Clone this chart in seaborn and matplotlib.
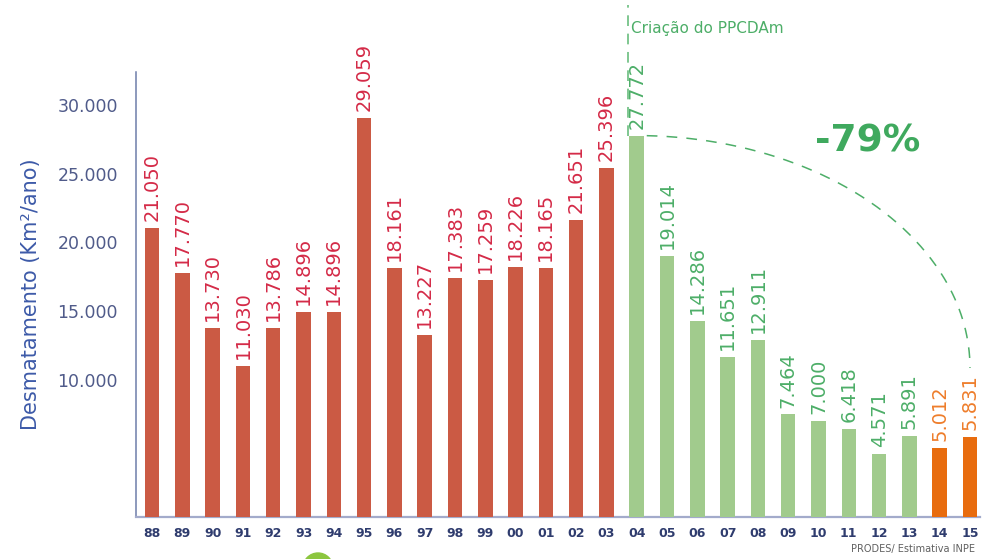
import numpy as np
import pandas as pd
import matplotlib
matplotlib.use("Agg")
import matplotlib.pyplot as plt
from matplotlib.patches import Ellipse
import seaborn as sns

# ---- data ----
years = ['88', '89', '90', '91', '92', '93', '94', '95', '96', '97', '98', '99',
         '00', '01', '02', '03', '04', '05', '06', '07', '08', '09', '10', '11',
         '12', '13', '14', '15']
values = [21050, 17770, 13730, 11030, 13786, 14896, 14896, 29059, 18161, 13227,
          17383, 17259, 18226, 18165, 21651, 25396, 27772, 19014, 14286, 11651,
          12911, 7464, 7000, 6418, 4571, 5891, 5012, 5831]
periods = ['antes'] * 16 + ['ppcdam'] * 10 + ['recente'] * 2
ytick_vals = [10000, 15000, 20000, 25000, 30000]

bar_colors = {'antes': '#CB5A44', 'ppcdam': '#A1CB8D', 'recente': '#E86C0E'}
label_colors = {'antes': '#D42A47', 'ppcdam': '#4DAE68', 'recente': '#EE7D2B'}

df = pd.DataFrame({'year': years, 'value': values, 'period': periods})

sns.set_style('white')
plt.rcParams['font.family'] = ['DejaVu Sans']

fig = plt.figure(figsize=(9.94, 5.59), dpi=100)
ax = fig.add_axes([0.1368, 0.0751, 0.8491, 0.7961])

sns.barplot(data=df, x='year', y='value', hue='period', palette=bar_colors,
            order=years, hue_order=['antes', 'ppcdam', 'recente'],
            dodge=False, width=0.48, legend=False, saturation=1, ax=ax,
            zorder=3, linewidth=0, edgecolor='none')

ax.set_xlim(-0.53, 27.33)
ax.set_ylim(0, 32400)

def fmt(v):
    return f"{v:,}".replace(',', '.')

for i, (v, p) in enumerate(zip(values, periods)):
    ax.annotate(fmt(v), (i, v), xytext=(0, 5), textcoords='offset points',
                rotation=90, ha='center', va='bottom', fontsize=14,
                color=label_colors[p], zorder=4)

# axes styling
for s in ['top', 'right']:
    ax.spines[s].set_visible(False)
ax.spines['left'].set_color('#6E7DAA')
ax.spines['left'].set_linewidth(1.1)
ax.spines['bottom'].set_color('#A3ABCB')
ax.spines['bottom'].set_linewidth(1.6)

ax.set_yticks(ytick_vals)
ax.set_yticklabels([fmt(v) for v in ytick_vals])
ax.tick_params(axis='y', length=0, pad=13, labelsize=12.5, labelcolor='#505B8A')
ax.tick_params(axis='x', length=0, pad=7, labelsize=9, labelcolor='#2F3C6E')
for t in ax.get_xticklabels():
    t.set_fontweight('bold')

ax.set_xlabel('')
ax.set_ylabel('Desmatamento (Km²/ano)', fontsize=15, color='#3D5AA8')
ax.yaxis.set_label_coords(-0.1126, 0.5)

# PPCDAm marker line
i04 = years.index('04')
ax.plot([i04 - 0.3, i04 - 0.3], [values[i04], 37300], color='#5DB873',
        lw=1.1, ls=(0, (7, 5)), clip_on=False, zorder=2)
ax.text(i04 - 0.2, 35600, 'Criação do PPCDAm', fontsize=11, color='#4DAE68',
        ha='left', va='center', clip_on=False)

# dashed arc showing the reduction
i15 = years.index('15')
t = np.linspace(0.03, np.pi / 2, 200)
yc = 10850
arc_x = i04 + (i15 - i04) * np.sin(t)
arc_y = yc + (values[i04] - yc) * np.cos(t)
ax.plot(arc_x, arc_y, color='#4DAE68', lw=1.1, ls=(0, (7, 6)), zorder=2)

ax.text(23.63, 27310, '-79%', fontsize=27, fontweight='bold', color='#3FA95E',
        ha='center', va='center')

fig.text(975 / 994, 1 - 549 / 559, 'PRODES/ Estimativa INPE', fontsize=7,
         color='#606060', ha='right', va='center')

fig.add_artist(Ellipse((318 / 994, -9 / 559), width=30 / 994, height=30 / 559,
                       transform=fig.transFigure, color='#8CC63F'))

fig.savefig('out.png', dpi=100)
